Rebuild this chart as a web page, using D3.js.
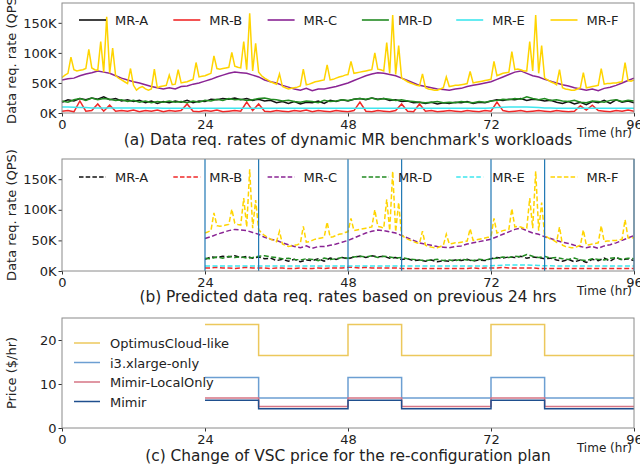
<html lang="en">
<head>
<meta charset="utf-8">
<title>MR workloads / VSC price</title>
<script src="https://d3js.org/d3.v7.min.js"></script>
<style>
  body { margin: 0; background: #fff; }
  svg text { font-family: "DejaVu Sans", sans-serif; fill: #222; }
</style>
</head>
<body>
<div id="chart"></div>
<script>
// ---- data (K QPS) ----
const hours = d3.range(0, 97);          // 0..96, hourly
const halfHours = d3.range(0, 96.5, 0.5); // 0..96, every 30 min (MR-F)
const xTicks = [0, 24, 48, 72, 96];

const mrA = [18,22,20,24,22,25,23,27,22,24, 20,22,19,21,17,20,16,19,17,20,
             18,21,17,20,19,23,22,24,23,25, 22,24,21,23,20,21,17,19,16,19,
             15,18,17,20,16,21,19,22,20,23, 24,22,25,23,24,21,22,19,20,17,
             18,16,18,15,17,16,18,17,19,16, 18,17,20,22,21,23,22,24,21,23,
             22,20,21,18,16,19,15,18,14,19, 17,21,16,22,18,20,17];
const mrB = [3,4,2,20,3,4,15,3,13,3, 4,3,5,2,4,3,5,2,4,3,
             4,15,3,2,4,3,5,2,3,4, 3,18,4,15,3,2,4,3,2,4,
             3,5,2,4,3,2,4,3,2,4, 18,3,2,4,3,2,4,15,3,2,
             15,3,4,2,3,4,3,2,4,3, 2,4,3,18,4,2,3,4,2,3,
             4,3,2,4,3,2,3,12,5,13, 4,3,2,4,3,5,3];
const mrC = [55,57,58,62,65,67,70,68,66,62, 58,55,52,50,47,44,42,40,42,40,
             44,45,48,50,53,56,60,63,66,68, 67,66,63,60,55,52,50,46,43,40,
             38,41,37,40,40,42,44,47,50,54, 58,62,65,67,66,64,62,58,54,50,
             46,44,42,40,39,38,40,41,44,46, 48,50,52,56,60,64,68,70,66,62,
             60,56,53,50,47,45,42,40,38,40, 37,41,43,46,50,54,58];
const mrD = [20,18,22,24,21,25,22,24,23,21, 22,19,21,18,20,17,19,18,20,18,
             19,17,20,18,21,20,23,21,24,22, 23,21,22,24,25,23,22,20,21,19,
             18,20,19,17,21,19,20,22,21,23, 24,23,25,22,24,23,21,22,20,19,
             18,17,18,19,17,18,17,19,18,17, 19,18,20,21,23,22,24,23,27,24,
             22,24,21,22,20,19,21,18,17,20, 19,18,21,22,19,21,20];
const mrE = [10,10,9.5,9,9,8.5,8.5,8.5,8.5,8.5, 8.5,8.5,8.5,8.5,8.5,8.5,8.5,8,8,8,
             8,8,8,8,8,8,8,8,8,8, 8,8,8,8,8,8,8,8,8,8,
             8,8,8,8,8,8,8,8,8,8, 8,8,8,8,8,8,8,8,8,8,
             8,8,8,8,8,8,8,8,8,8, 8,8,8.5,9,9.5,10,10,10,10,9.5,
             9,8.5,8.5,8,8,8,8,8,8,8, 8,8,8,8,8,8,8];
const mrF = [59,63,66,93,72,70,71,72,74,106, 75,72,71,119,68,160,66,108,62,58,
             55,52,49,74,46,38,42,44,40,38, 40,73,42,44,45,46,63,47,48,72,
             50,51,52,54,56,84,60,61,62,64, 66,95,74,73,74,75,76,101,78,76,
             75,119,72,166,70,116,68,62,58,55, 52,50,48,65,44,42,40,41,42,43,
             45,73,47,48,50,52,53,54,55,80, 55,56,58,60,61,63,64,86,66,67,
             68,69,70,71,72,100,73,72,70,117, 66,163,64,112,58,55,52,50,48,46,
             45,65,42,40,39,38,38,40,42,60, 44,45,46,46,47,48,49,69,50,51,
             52,53,54,55,56,86,62,64,66,67, 68,102,72,73,72,70,70,119,70,163,
             66,112,58,55,52,50,47,72,42,40, 39,38,38,40,42,67,42,43,44,45,
             46,74,48,49,49,50,50,51,52,84, 54,53,55];
// predicted MR-B (24..96), flat without the bursts
const predB = [5,5,6,5,5,4,5,6,5,5, 5,4,5,5,4,4,5,4,4,5,
               4,5,5,5,6,6,5,6,5,5, 5,5,5,4,4,4,4,4,4,4,
               4,4,4,4,4,5,4,5,5,5, 6,5,5,5,5,5,4,4,4,4,
               4,4,4,4,4,4,4,4,4,4, 4,4,4];
const reconfigTimes = [24, 33, 48, 57, 72, 81, 96];

// VSC price ($/hr) at each reconfiguration point (step after)
const priceTimes = [24, 33, 48, 57, 72, 81, 96];
const priceOptimus = [23.5, 16.5, 23.5, 16.5, 23.5, 16.5, 16.5];
const priceI3 = [11.5, 6.8, 11.5, 6.8, 11.5, 6.8, 6.8];
const priceLocalOnly = [6.8, 4.9, 6.8, 4.9, 6.8, 4.9, 4.9];
const priceMimir = [6.3, 4.4, 6.3, 4.4, 6.3, 4.4, 4.4];

const workloadNames = ["MR-A", "MR-B", "MR-C", "MR-D", "MR-E", "MR-F"];
const workloadColors = ["#111111", "#f02828", "#8a2494", "#228b22", "#3ee6ee", "#ffd400"];
const priceNames = ["OptimusCloud-like", "i3.xlarge-only", "Mimir-LocalOnly", "Mimir"];
const priceColors = ["#ecc85c", "#6c9fd2", "#d67484", "#1f4f8e"];

// ---- layout ----
const svg = d3.select("#chart").append("svg").attr("width", 640).attr("height", 467);
const x = d3.scaleLinear().domain([0, 96]).range([62, 634]);
const yA = d3.scaleLinear().domain([0, 183]).range([113, 3]);
const yB = d3.scaleLinear().domain([0, 183]).range([271, 159]);
const yC = d3.scaleLinear().domain([0, 25]).range([428, 318]);

function drawAxes(y, yTicks, fmt, ylabel, caption, capY) {
    const [bottom, top] = y.range();
    const gx = svg.append("g").attr("transform", `translate(0,${bottom})`)
        .call(d3.axisBottom(x).tickValues(xTicks).tickSize(3.5).tickPadding(3));
    const gy = svg.append("g").attr("transform", "translate(62,0)")
        .call(d3.axisLeft(y).tickValues(yTicks).tickFormat(fmt).tickSize(3.5).tickPadding(2));
    [gx, gy].forEach(g => {
        g.select(".domain").remove();
        g.selectAll("line").attr("stroke", "#333");
        g.selectAll("text").attr("font-size", "13px").attr("fill", "#222");
    });
    // frame
    svg.append("rect").attr("x", 62).attr("y", top).attr("width", 572).attr("height", bottom - top)
        .attr("fill", "none").attr("stroke", "#8a8a8a").attr("stroke-width", 1);
    svg.append("text").attr("transform", `translate(16,${(top + bottom) / 2}) rotate(-90)`)
        .attr("text-anchor", "middle").attr("font-size", "13px").text(ylabel);
    svg.append("text").attr("x", 632).attr("y", bottom + 24).attr("text-anchor", "end")
        .attr("font-size", "12px").text("Time (hr)");
    svg.append("text").attr("x", 348).attr("y", capY).attr("text-anchor", "middle")
        .attr("font-size", "15.4px").text(caption);
}

function legendRow(y0, dashed) {
    workloadNames.forEach((n, i) => {
        const lx = 79 + i * 94.3;
        svg.append("line").attr("x1", lx).attr("x2", lx + 27).attr("y1", y0).attr("y2", y0)
            .attr("stroke", workloadColors[i]).attr("stroke-width", 1.6)
            .attr("stroke-dasharray", dashed ? "4.5,2.2" : null);
        svg.append("text").attr("x", lx + 36).attr("y", y0 + 5).attr("font-size", "13px").text(n);
    });
}

// ---- (a) actual rates ----
const lineA = d3.line().x(d => x(d[0])).y(d => yA(d[1]));
const actual = [mrA, mrB, mrC, mrD, mrE];
actual.forEach((s, i) => {
    svg.append("path").datum(hours.map((h, j) => [h, s[j]]))
        .attr("fill", "none").attr("stroke", workloadColors[i]).attr("stroke-width", 1.5).attr("d", lineA);
});
svg.append("path").datum(halfHours.map((h, j) => [h, mrF[j]]))
    .attr("fill", "none").attr("stroke", workloadColors[5]).attr("stroke-width", 1.5).attr("d", lineA);
drawAxes(yA, [0, 50, 100, 150], d => d + "K", "Data req. rate (QPS)",
    "(a) Data req. rates of dynamic MR benchmark's workloads", 145);
legendRow(20, false);

// ---- (b) predicted rates ----
const lineB = d3.line().x(d => x(d[0])).y(d => yB(d[1]));
const predicted = [mrA, null, mrC, mrD, mrE];
predicted.forEach((s, i) => {
    const pts = i === 1
        ? predB.map((v, j) => [24 + j, v])
        : hours.filter(h => h >= 24).map(h => [h, s[h]]);
    svg.append("path").datum(pts)
        .attr("fill", "none").attr("stroke", workloadColors[i]).attr("stroke-width", 1.5)
        .attr("stroke-dasharray", "5,2.5").attr("d", lineB);
});
svg.append("path").datum(halfHours.map((h, j) => [h, mrF[j]]).filter(d => d[0] >= 24))
    .attr("fill", "none").attr("stroke", workloadColors[5]).attr("stroke-width", 1.5)
    .attr("stroke-dasharray", "5,2.5").attr("d", lineB);
svg.selectAll(".reconf").data(reconfigTimes).enter().append("line")
    .attr("x1", d => x(d)).attr("x2", d => x(d)).attr("y1", yB.range()[0]).attr("y2", yB.range()[1])
    .attr("stroke", "#1f77b4").attr("stroke-width", 1.2);
drawAxes(yB, [0, 50, 100, 150], d => d + "K", "Data req. rate (QPS)",
    "(b) Predicted data req. rates based on previous 24 hrs", 302);
legendRow(177, true);

// ---- (c) price ----
const lineC = d3.line().x(d => x(d[0])).y(d => yC(d[1])).curve(d3.curveStepAfter);
[priceOptimus, priceI3, priceLocalOnly, priceMimir].forEach((s, i) => {
    svg.append("path").datum(priceTimes.map((t, j) => [t, s[j]]))
        .attr("fill", "none").attr("stroke", priceColors[i]).attr("stroke-width", 1.5).attr("d", lineC);
});
drawAxes(yC, [0, 10, 20], d => d, "Price ($/hr)",
    "(c) Change of VSC price for the re-configuration plan", 461);
priceNames.forEach((n, i) => {
    const ly = 343 + i * 19.5;
    svg.append("line").attr("x1", 74).attr("x2", 100).attr("y1", ly).attr("y2", ly)
        .attr("stroke", priceColors[i]).attr("stroke-width", 1.5);
    svg.append("text").attr("x", 110).attr("y", ly + 5).attr("font-size", "13px").text(n);
});
</script>
</body>
</html>
